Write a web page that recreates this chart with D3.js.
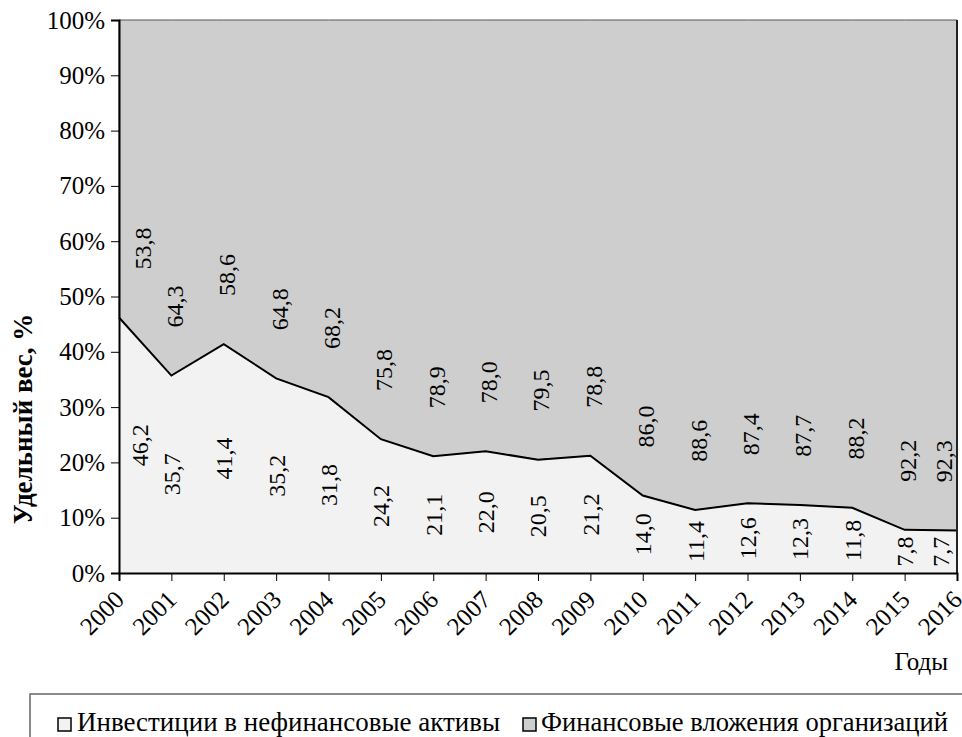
<!DOCTYPE html>
<html><head><meta charset="utf-8">
<script src="https://cdn.jsdelivr.net/npm/d3@7"></script>
<style>body{margin:0;background:#fff}svg{display:block}</style>
</head><body><svg id="c" width="962" height="737"></svg>
<script>
const years = [2000,2001,2002,2003,2004,2005,2006,2007,2008,2009,2010,2011,2012,2013,2014,2015,2016];
const nonFinancial = [46.2,35.7,41.4,35.2,31.8,24.2,21.1,22.0,20.5,21.2,14.0,11.4,12.6,12.3,11.8,7.8,7.7];
const financial = [53.8,64.3,58.6,64.8,68.2,75.8,78.9,78.0,79.5,78.8,86.0,88.6,87.4,87.7,88.2,92.2,92.3];
const yTicks = [0,10,20,30,40,50,60,70,80,90,100];
const seriesNames = ["Инвестиции в нефинансовые активы","Финансовые вложения организаций"];
const colors = ["#f2f2f2","#cecece"];
const FONT = "Liberation Serif";

const svg = d3.select("#c");
const L=119, R=957, T=20, B=573;
const x = d3.scaleLinear().domain([2000,2016]).range([L,R]);
const y = d3.scaleLinear().domain([0,100]).range([B,T]);
const rows = years.map((yr,i)=>({year:yr,a:nonFinancial[i],b:financial[i]}));

svg.append("path").datum(rows)
  .attr("d", d3.area().x(d=>x(d.year)).y0(d=>y(d.a)).y1(d=>y(d.a+d.b)))
  .attr("fill",colors[1]).attr("stroke","#555").attr("stroke-width",1);
svg.append("path").datum(rows)
  .attr("d", d3.area().x(d=>x(d.year)).y0(y(0)).y1(d=>y(d.a)))
  .attr("fill",colors[0]);
svg.append("path").datum(rows)
  .attr("d", d3.line().x(d=>x(d.year)).y(d=>y(d.a)))
  .attr("fill","none").attr("stroke","#000").attr("stroke-width",2);
svg.append("line").attr("x1",R).attr("x2",R).attr("y1",T).attr("y2",B).attr("stroke","#222").attr("stroke-width",2);

const ya = svg.append("g").attr("transform",`translate(${L},0)`)
  .call(d3.axisLeft(y).tickValues(yTicks).tickFormat(d=>d+"%").tickSize(8).tickPadding(6));
ya.attr("font-family",FONT).attr("font-size",25);
ya.select(".domain").attr("stroke","#000").attr("stroke-width",2);
ya.selectAll("text").attr("fill","#000");
const xa = svg.append("g").attr("transform",`translate(0,${B})`)
  .call(d3.axisBottom(x).tickValues(years).tickFormat(d3.format("d")).tickSize(8));
xa.attr("font-family",FONT).attr("font-size",25);
xa.select(".domain").attr("stroke","#000").attr("stroke-width",2);
xa.selectAll("text").attr("fill","#000")
  .attr("text-anchor","end").attr("dy","0.35em").attr("y",0)
  .attr("transform","translate(0,22) rotate(-45)");

const lx = yr => Math.min(Math.max(x(yr), L+21), R-16);
const lab = svg.append("g").attr("font-family",FONT).attr("font-size",24);
lab.selectAll("text.a").data(rows).join("text").attr("class","a")
  .attr("transform",d=>`translate(${lx(d.year)},${y(d.a/2)}) rotate(-90)`)
  .attr("text-anchor","middle").attr("dy","0.35em")
  .text(d=>d3.format(".1f")(d.a).replace(".",","));
lab.selectAll("text.b").data(rows).join("text").attr("class","b")
  .attr("transform",d=>`translate(${lx(d.year)+3},${y(d.a+12.5)}) rotate(-90)`)
  .attr("text-anchor","middle").attr("dy","0.35em")
  .text(d=>d3.format(".1f")(d.b).replace(".",","));

svg.append("text").attr("transform","translate(32,419) rotate(-90)")
  .attr("text-anchor","middle").attr("font-family",FONT).attr("font-size",27).attr("font-weight","bold")
  .text("Удельный вес, %");
svg.append("text").attr("x",948).attr("y",670).attr("text-anchor","end")
  .attr("font-family",FONT).attr("font-size",25).text("Годы");

svg.append("path").attr("d",`M30,737 V694 H962`).attr("fill","none").attr("stroke","#666").attr("stroke-width",1.5);
const lg = [{x:58,tx:77,w:423},{x:523,tx:541,w:407}];
lg.forEach((p,i)=>{
  svg.append("rect").attr("x",p.x).attr("y",718).attr("width",13).attr("height",13)
    .attr("fill",colors[i]).attr("stroke","#000").attr("stroke-width",1.5);
  svg.append("text").attr("x",p.tx).attr("y",731).attr("font-family",FONT).attr("font-size",28)
    .attr("textLength",p.w).attr("lengthAdjust","spacingAndGlyphs").text(seriesNames[i]);
});
</script></body></html>
